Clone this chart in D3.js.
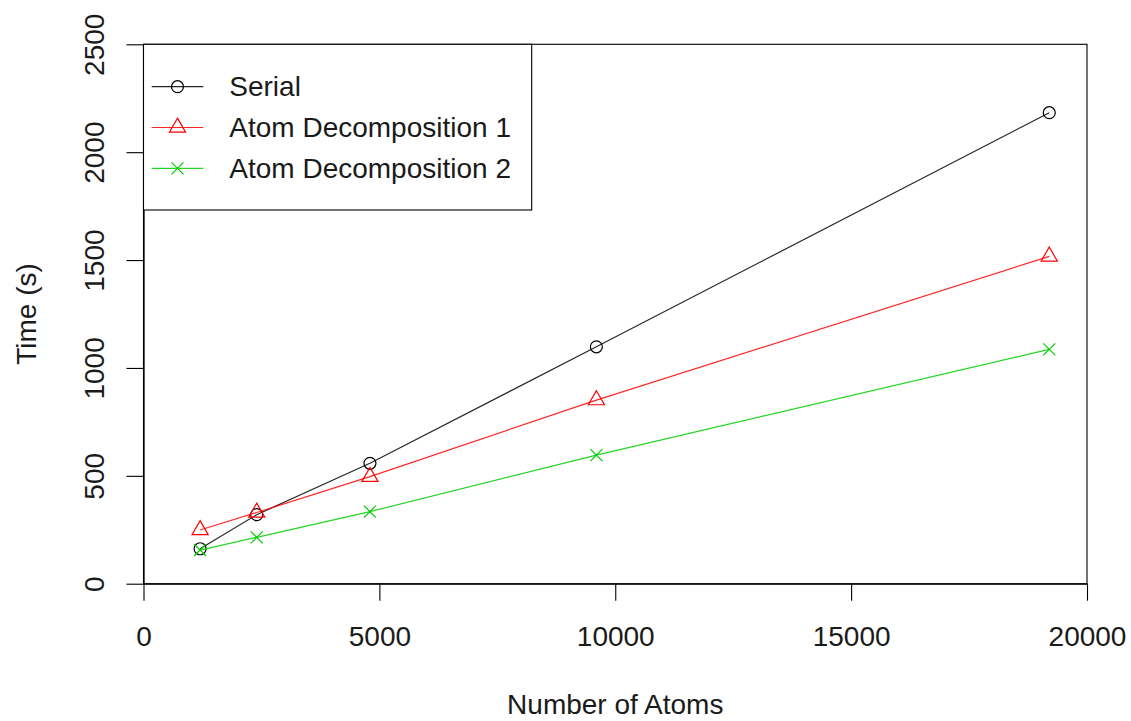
<!DOCTYPE html>
<html>
<head>
<meta charset="utf-8">
<script src="https://cdn.jsdelivr.net/npm/d3@7"></script>
<style>
  html, body { margin: 0; padding: 0; background: #fff; }
  svg { display: block; }
  text { font-family: "Liberation Sans", Arial, Helvetica, sans-serif; fill: #1a1a1a; }
</style>
</head>
<body>
<svg id="chart" width="1131" height="721"></svg>
<script>
// ---- data ----
const atoms = [1200, 2400, 4800, 9600, 19200];
const serial = [162, 320, 558, 1098, 2183];
const atomDecomp1 = [249, 330, 496, 851, 1517];
const atomDecomp2 = [156, 215, 334, 596, 1086];
const seriesNames = ["Serial", "Atom Decomposition 1", "Atom Decomposition 2"];
const seriesColors = ["#000000", "#FF0000", "#00CD00"];
const seriesShapes = ["circle", "triangle", "cross"];
const xTicks = [0, 5000, 10000, 15000, 20000];
const yTicks = [0, 500, 1000, 1500, 2000, 2500];
const xTitle = "Number of Atoms";
const yTitle = "Time (s)";

// ---- layout ----
const svg = d3.select("#chart");
const pLeft = 143.5, pRight = 1087, pTop = 44.3, pBottom = 583.7;
const fontSize = 28;
const x = d3.scaleLinear().domain([0, 20000]).range([pLeft, pRight]);
const y = d3.scaleLinear().domain([0, 2500]).range([pBottom, pTop]);
const R = 6;
const sw = 1.2;

// box
svg.append("rect")
  .attr("x", pLeft).attr("y", pTop)
  .attr("width", pRight - pLeft).attr("height", pBottom - pTop)
  .attr("fill", "none").attr("stroke", "#000").attr("stroke-width", 1.1);

// x axis
const gx = svg.append("g").attr("transform", `translate(0,${pBottom})`)
  .call(d3.axisBottom(x).tickValues(xTicks).tickFormat(d3.format("d")).tickSize(17).tickSizeOuter(0));
gx.select(".domain").attr("stroke", "#000").attr("stroke-width", 1.3);
gx.selectAll(".tick line").attr("stroke", "#000").attr("stroke-width", 1.1);
gx.selectAll(".tick text")
  .attr("y", 646 - pBottom).attr("dy", 0)
  .style("font-size", fontSize + "px").style("font-family", '"Liberation Sans", Arial, sans-serif')
  .attr("fill", "#1a1a1a");

// y axis
const gy = svg.append("g").attr("transform", `translate(${pLeft},0)`)
  .call(d3.axisLeft(y).tickValues(yTicks).tickFormat(d3.format("d")).tickSize(17).tickSizeOuter(0));
gy.select(".domain").attr("stroke", "#000").attr("stroke-width", 1.3);
gy.selectAll(".tick line").attr("stroke", "#000").attr("stroke-width", 1.1);
gy.selectAll(".tick text")
  .attr("x", 0).attr("y", -(pLeft - 103.5)).attr("dy", 0)
  .attr("transform", "rotate(-90)")
  .attr("text-anchor", "middle")
  .style("font-size", fontSize + "px").style("font-family", '"Liberation Sans", Arial, sans-serif')
  .attr("fill", "#1a1a1a");

// titles
svg.append("text")
  .attr("x", (pLeft + pRight) / 2).attr("y", 714)
  .attr("text-anchor", "middle").style("font-size", fontSize + "px")
  .text(xTitle);
svg.append("text")
  .attr("transform", `translate(35.7,${(pTop + pBottom) / 2}) rotate(-90)`)
  .attr("text-anchor", "middle").style("font-size", fontSize + "px")
  .text(yTitle);

// marker drawing
function drawMarker(g, shape, cx, cy, color) {
  if (shape === "circle") {
    g.append("circle").attr("cx", cx).attr("cy", cy).attr("r", R)
      .attr("fill", "none").attr("stroke", color).attr("stroke-width", sw);
  } else if (shape === "triangle") {
    const r = 1.5551 * R, xc = 1.3468 * R, yc = 0.7776 * R;
    g.append("path")
      .attr("d", `M${cx},${cy - r}L${cx + xc},${cy + yc}L${cx - xc},${cy + yc}Z`)
      .attr("fill", "none").attr("stroke", color).attr("stroke-width", sw);
  } else {
    g.append("path")
      .attr("d", `M${cx - R},${cy - R}L${cx + R},${cy + R}M${cx - R},${cy + R}L${cx + R},${cy - R}`)
      .attr("fill", "none").attr("stroke", color).attr("stroke-width", sw);
  }
}

// series
const allSeries = [serial, atomDecomp1, atomDecomp2];
const line = d3.line().x(d => x(d[0])).y(d => y(d[1]));
allSeries.forEach((vals, i) => {
  const g = svg.append("g");
  const pts = atoms.map((a, j) => [a, vals[j]]);
  g.append("path").attr("d", line(pts))
    .attr("fill", "none").attr("stroke", seriesColors[i]).attr("stroke-width", sw)
    .attr("stroke-opacity", 0.85);
  pts.forEach(p => drawMarker(g, seriesShapes[i], x(p[0]), y(p[1]), seriesColors[i]));
});

// legend
const lg = svg.append("g");
lg.append("rect")
  .attr("x", pLeft).attr("y", pTop)
  .attr("width", 531.7 - pLeft).attr("height", 210 - pTop)
  .attr("fill", "#fff").attr("stroke", "#000").attr("stroke-width", 1.1);
seriesNames.forEach((name, i) => {
  const ry = pTop + 42.4 + i * 40.8;
  lg.append("line").attr("x1", 151.7).attr("x2", 203.3).attr("y1", ry).attr("y2", ry)
    .attr("stroke", seriesColors[i]).attr("stroke-width", sw).attr("stroke-opacity", 0.85);
  drawMarker(lg, seriesShapes[i], 177.5, ry, seriesColors[i]);
  lg.append("text").attr("x", 229.3).attr("y", ry + 9.5)
    .style("font-size", fontSize + "px").text(name);
});
</script>
</body>
</html>
